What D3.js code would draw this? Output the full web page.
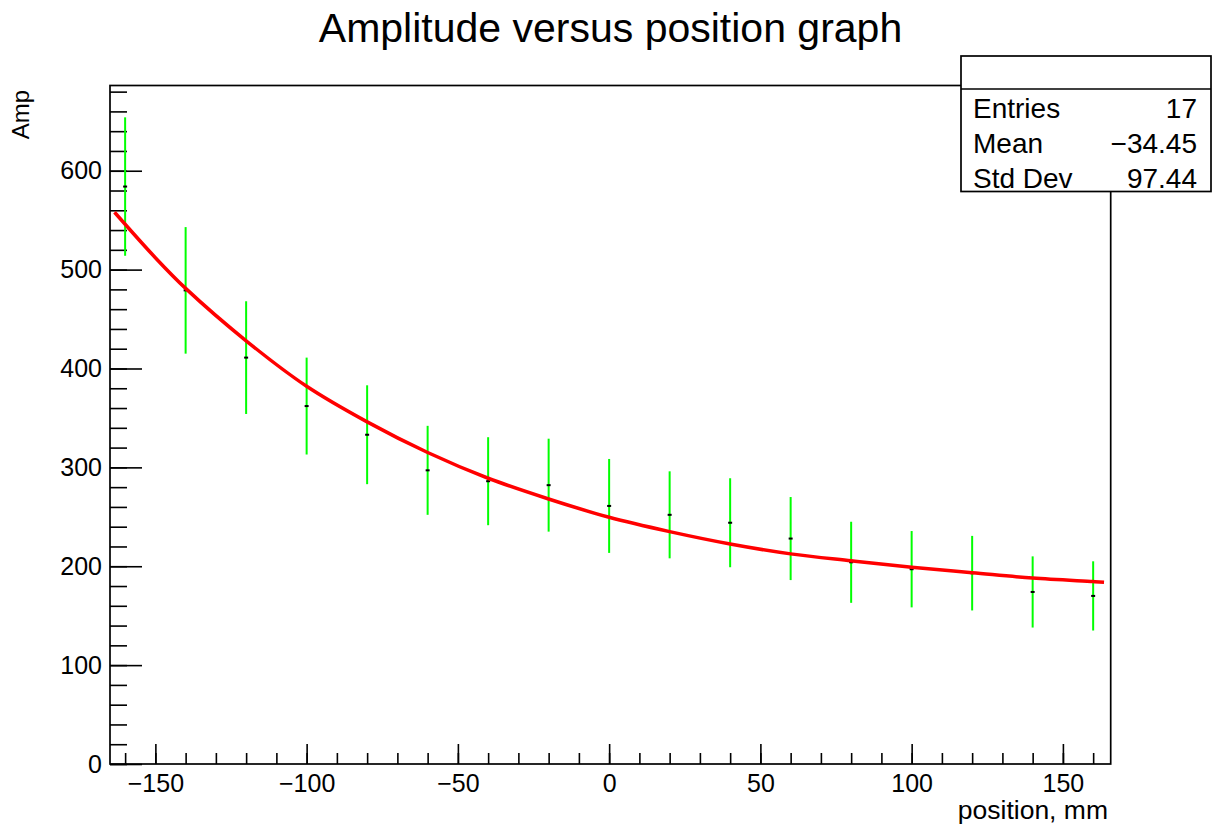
<!DOCTYPE html>
<html>
<head>
<meta charset="utf-8">
<script src="https://cdn.jsdelivr.net/npm/d3@7"></script>
<style>
  html, body { margin: 0; padding: 0; background: #ffffff; }
  svg { display: block; }
  text { font-family: "Liberation Sans", Arial, Helvetica, sans-serif; fill: #000; }
</style>
</head>
<body>
<svg id="chart" width="1214" height="827"></svg>
<script>
// ---- data ----
const positions  = [-160, -140, -120, -100, -80, -60, -40, -20, 0, 20, 40, 60, 80, 100, 120, 140, 160];
const amplitudes = [584, 479, 411, 362, 333, 297, 286, 282, 261, 252, 244, 228, 204, 197, 193, 174, 170];
const errors     = [70, 64, 57, 49, 50, 45, 44.5, 47, 47.5, 44, 45, 42, 41, 38.6, 37.7, 36, 35];

// fitted curve
const fitX = [-163.5, -150, -140, -120, -100, -80, -60, -40, -20, 0, 20, 40, 60, 80, 100, 120, 140, 160, 163.6];
const fitY = [558, 512, 481, 428, 382, 346, 315, 289, 268, 249.5, 235, 222.5, 212.5, 205.5, 199, 193.5, 188, 184.5, 183.8];

const xMajorTicks = [-150, -100, -50, 0, 50, 100, 150];
const xMinorTicks = d3.range(-160, 161, 10);
const yMajorTicks = [0, 100, 200, 300, 400, 500, 600];
const yMinorTicks = d3.range(0, 681, 20);

const statsLabels = ["Entries", "Mean", "Std Dev"];
const statsValues = ["17", "\u221234.45", "97.44"];

const titleText = "Amplitude versus position graph";
const xTitle = "position, mm";
const yTitle = "Amp";

// ---- layout ----
const frame = { left: 110, right: 1110.7, top: 85.5, bottom: 764 };
const svg = d3.select("#chart");

const x = d3.scaleLinear().domain([-165, 165.8]).range([frame.left, frame.right]);
const y = d3.scaleLinear().domain([0, 686.2]).range([frame.bottom, frame.top]);

// frame
svg.append("rect")
  .attr("x", frame.left).attr("y", frame.top)
  .attr("width", frame.right - frame.left).attr("height", frame.bottom - frame.top)
  .attr("fill", "none").attr("stroke", "#000").attr("stroke-width", 1.7);

// axes
const fmt = d3.format("");
const gx = svg.append("g").attr("transform", `translate(0,${frame.bottom})`);
gx.call(d3.axisBottom(x).tickValues(xMinorTicks).tickSize(-11).tickSizeOuter(0).tickFormat(""));
gx.call(g => g.select(".domain").remove());
const gxM = svg.append("g").attr("transform", `translate(0,${frame.bottom})`);
gxM.call(d3.axisBottom(x).tickValues(xMajorTicks).tickSize(-20).tickSizeOuter(0).tickPadding(10).tickFormat(fmt));
gxM.call(g => g.select(".domain").remove());

const gy = svg.append("g").attr("transform", `translate(${frame.left},0)`);
gy.call(d3.axisLeft(y).tickValues(yMinorTicks).tickSize(-17).tickSizeOuter(0).tickFormat(""));
gy.call(g => g.select(".domain").remove());
const gyM = svg.append("g").attr("transform", `translate(${frame.left},0)`);
gyM.call(d3.axisLeft(y).tickValues(yMajorTicks).tickSize(-32).tickSizeOuter(0).tickPadding(8).tickFormat(fmt));
gyM.call(g => g.select(".domain").remove());

svg.selectAll(".tick line").attr("stroke", "#000").attr("stroke-width", 1.6);
svg.selectAll(".tick text")
  .style("font-family", '"Liberation Sans", Arial, Helvetica, sans-serif')
  .style("font-size", "25px").attr("fill", "#000");

// error bars
const pts = positions.map((p, i) => ({ x: p, y: amplitudes[i], e: errors[i] }));
svg.append("g").selectAll("line").data(pts).join("line")
  .attr("x1", d => x(d.x)).attr("x2", d => x(d.x))
  .attr("y1", d => y(d.y + d.e)).attr("y2", d => y(d.y - d.e))
  .attr("stroke", "#00ff00").attr("stroke-width", 2);

// markers
svg.append("g").selectAll("rect").data(pts).join("rect")
  .attr("x", d => x(d.x) - 2).attr("y", d => y(d.y) - 1)
  .attr("width", 4).attr("height", 2).attr("fill", "#000");

// fit curve
const fit = fitX.map((v, i) => [v, fitY[i]]);
svg.append("path")
  .attr("d", d3.line().x(d => x(d[0])).y(d => y(d[1])).curve(d3.curveCatmullRom.alpha(0.5))(fit))
  .attr("fill", "none").attr("stroke", "#ff0000").attr("stroke-width", 3.5);

// title
svg.append("text").attr("x", 610.5).attr("y", 42).attr("text-anchor", "middle")
  .style("font-size", "41px").text(titleText);

// axis titles
svg.append("text").attr("x", 1108).attr("y", 819).attr("text-anchor", "end")
  .style("font-size", "26.5px").text(xTitle);
svg.append("text").attr("transform", "translate(29,90) rotate(-90)").attr("text-anchor", "end")
  .style("font-size", "24px").text(yTitle);

// stats box
const box = { left: 961, right: 1211, top: 56, mid: 89, bottom: 191.5 };
svg.append("rect").attr("x", box.left).attr("y", box.top)
  .attr("width", box.right - box.left).attr("height", box.bottom - box.top)
  .attr("fill", "#fff").attr("stroke", "#000").attr("stroke-width", 1.7);
svg.append("line").attr("x1", box.left).attr("x2", box.right)
  .attr("y1", box.mid).attr("y2", box.mid).attr("stroke", "#000").attr("stroke-width", 1.7);
const rowBase = [118, 153, 188];
statsLabels.forEach((lab, i) => {
  svg.append("text").attr("x", 973).attr("y", rowBase[i]).style("font-size", "28px").text(lab);
  svg.append("text").attr("x", 1197).attr("y", rowBase[i]).attr("text-anchor", "end")
    .style("font-size", "28px").text(statsValues[i]);
});
</script>
</body>
</html>
